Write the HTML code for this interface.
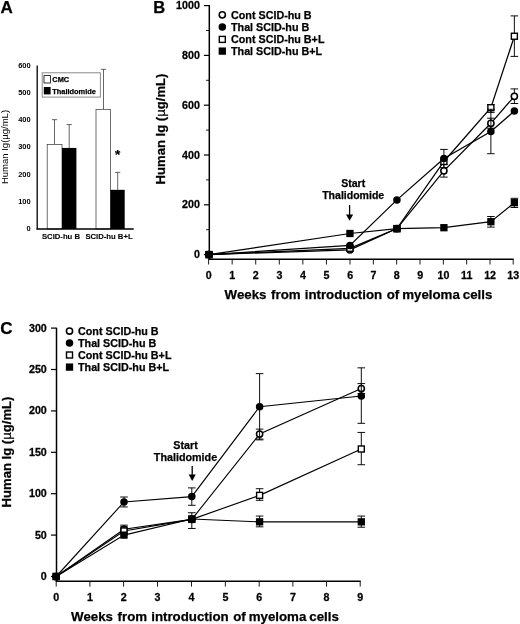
<!DOCTYPE html>
<html><head><meta charset="utf-8"><title>Figure</title>
<style>
html,body{margin:0;padding:0;background:#fff;}
svg{display:block;font-family:"Liberation Sans", Arial, Helvetica, sans-serif;fill:#000;}
text{stroke:#000;stroke-width:0.25px;stroke-linejoin:round;}
</style></head><body>
<svg width="520" height="624" viewBox="0 0 520 624">
<rect x="0" y="0" width="520" height="624" fill="#fff"/>
<text x="0.60" y="12.70" font-size="17" text-anchor="start" font-weight="bold" >A</text>
<text x="30.70" y="230.90" font-size="7.5" text-anchor="end" font-weight="bold" style="stroke-width:0">0</text>
<text x="30.70" y="203.70" font-size="7.5" text-anchor="end" font-weight="bold" style="stroke-width:0">100</text>
<text x="30.70" y="176.50" font-size="7.5" text-anchor="end" font-weight="bold" style="stroke-width:0">200</text>
<text x="30.70" y="149.30" font-size="7.5" text-anchor="end" font-weight="bold" style="stroke-width:0">300</text>
<text x="30.70" y="122.10" font-size="7.5" text-anchor="end" font-weight="bold" style="stroke-width:0">400</text>
<text x="30.70" y="94.90" font-size="7.5" text-anchor="end" font-weight="bold" style="stroke-width:0">500</text>
<text x="30.70" y="67.70" font-size="7.5" text-anchor="end" font-weight="bold" style="stroke-width:0">600</text>
<rect x="42.2" y="72.8" width="58.2" height="24.3" fill="#fff" stroke="#8a8a8a" stroke-width="1"/>
<rect x="44" y="75.6" width="6.4" height="7.4" fill="#fff" stroke="#000" stroke-width="0.8"/>
<rect x="43.8" y="87" width="6.8" height="7.4" fill="#000"/>
<text x="52.30" y="81.90" font-size="7.4" text-anchor="start" font-weight="bold" >CMC</text>
<text x="52.30" y="93.60" font-size="7.4" text-anchor="start" font-weight="bold" >Thalidomide</text>
<line x1="54.50" y1="119.66" x2="54.50" y2="144.41" stroke="#333" stroke-width="0.75"/>
<line x1="51.90" y1="119.66" x2="57.10" y2="119.66" stroke="#333" stroke-width="0.75"/>
<rect x="47.20" y="144.41" width="14.80" height="84.59" fill="#fff" stroke="#333" stroke-width="0.7"/>
<line x1="69.20" y1="124.55" x2="69.20" y2="147.94" stroke="#333" stroke-width="0.75"/>
<line x1="66.60" y1="124.55" x2="71.80" y2="124.55" stroke="#333" stroke-width="0.75"/>
<rect x="62.00" y="147.94" width="14.40" height="81.06" fill="#000"/>
<line x1="103.50" y1="69.34" x2="103.50" y2="109.32" stroke="#333" stroke-width="0.75"/>
<line x1="100.90" y1="69.34" x2="106.10" y2="69.34" stroke="#333" stroke-width="0.75"/>
<rect x="96.00" y="109.32" width="14.40" height="119.68" fill="#fff" stroke="#333" stroke-width="0.7"/>
<line x1="117.70" y1="172.42" x2="117.70" y2="189.83" stroke="#333" stroke-width="0.75"/>
<line x1="115.10" y1="172.42" x2="120.30" y2="172.42" stroke="#333" stroke-width="0.75"/>
<rect x="110.40" y="189.83" width="14.30" height="39.17" fill="#000"/>
<line x1="37.20" y1="65.50" x2="37.20" y2="229.60" stroke="#000" stroke-width="1.3"/>
<line x1="36.60" y1="229.00" x2="133.70" y2="229.00" stroke="#000" stroke-width="1.4"/>
<text x="117.70" y="158.50" font-size="13.5" text-anchor="middle" font-weight="bold" >*</text>
<text x="61.00" y="239.30" font-size="7.7" text-anchor="middle" font-weight="bold" style="stroke-width:0.1px">SCID-hu B</text>
<text x="109.00" y="239.30" font-size="7.7" text-anchor="middle" font-weight="bold" style="stroke-width:0.1px">SCID-hu B+L</text>
<text transform="translate(7.5,147) rotate(-90)" font-size="9.5" text-anchor="middle" font-weight="normal" style="stroke-width:0">Human Ig(µg/mL)</text>
<text x="153.20" y="12.60" font-size="16.5" text-anchor="start" font-weight="bold" >B</text>
<line x1="209.30" y1="5.00" x2="209.30" y2="260.00" stroke="#000" stroke-width="1.5"/>
<line x1="208.60" y1="259.30" x2="513.70" y2="259.30" stroke="#000" stroke-width="1.4"/>
<line x1="203.90" y1="254.60" x2="209.30" y2="254.60" stroke="#000" stroke-width="1.2"/>
<text transform="translate(199.90,258.10) scale(1.07,1)" font-size="10.0" text-anchor="end" font-weight="bold">0</text>
<line x1="206.10" y1="229.70" x2="209.30" y2="229.70" stroke="#000" stroke-width="0.9"/>
<line x1="203.90" y1="204.80" x2="209.30" y2="204.80" stroke="#000" stroke-width="1.2"/>
<text transform="translate(199.90,208.30) scale(1.07,1)" font-size="10.0" text-anchor="end" font-weight="bold">200</text>
<line x1="206.10" y1="179.90" x2="209.30" y2="179.90" stroke="#000" stroke-width="0.9"/>
<line x1="203.90" y1="155.00" x2="209.30" y2="155.00" stroke="#000" stroke-width="1.2"/>
<text transform="translate(199.90,158.50) scale(1.07,1)" font-size="10.0" text-anchor="end" font-weight="bold">400</text>
<line x1="206.10" y1="130.10" x2="209.30" y2="130.10" stroke="#000" stroke-width="0.9"/>
<line x1="203.90" y1="105.20" x2="209.30" y2="105.20" stroke="#000" stroke-width="1.2"/>
<text transform="translate(199.90,108.70) scale(1.07,1)" font-size="10.0" text-anchor="end" font-weight="bold">600</text>
<line x1="206.10" y1="80.30" x2="209.30" y2="80.30" stroke="#000" stroke-width="0.9"/>
<line x1="203.90" y1="55.40" x2="209.30" y2="55.40" stroke="#000" stroke-width="1.2"/>
<text transform="translate(199.90,58.90) scale(1.07,1)" font-size="10.0" text-anchor="end" font-weight="bold">800</text>
<line x1="206.10" y1="30.50" x2="209.30" y2="30.50" stroke="#000" stroke-width="0.9"/>
<line x1="203.90" y1="5.60" x2="209.30" y2="5.60" stroke="#000" stroke-width="1.2"/>
<text transform="translate(199.90,9.10) scale(1.07,1)" font-size="10.0" text-anchor="end" font-weight="bold">1000</text>
<line x1="208.60" y1="259.30" x2="208.60" y2="264.50" stroke="#000" stroke-width="0.9"/>
<text transform="translate(208.70,278.50) scale(1.07,1)" font-size="10.0" text-anchor="middle" font-weight="bold">0</text>
<line x1="232.17" y1="259.30" x2="232.17" y2="264.50" stroke="#000" stroke-width="0.9"/>
<text transform="translate(232.27,278.50) scale(1.07,1)" font-size="10.0" text-anchor="middle" font-weight="bold">1</text>
<line x1="255.73" y1="259.30" x2="255.73" y2="264.50" stroke="#000" stroke-width="0.9"/>
<text transform="translate(255.83,278.50) scale(1.07,1)" font-size="10.0" text-anchor="middle" font-weight="bold">2</text>
<line x1="279.30" y1="259.30" x2="279.30" y2="264.50" stroke="#000" stroke-width="0.9"/>
<text transform="translate(279.40,278.50) scale(1.07,1)" font-size="10.0" text-anchor="middle" font-weight="bold">3</text>
<line x1="302.87" y1="259.30" x2="302.87" y2="264.50" stroke="#000" stroke-width="0.9"/>
<text transform="translate(302.97,278.50) scale(1.07,1)" font-size="10.0" text-anchor="middle" font-weight="bold">4</text>
<line x1="326.43" y1="259.30" x2="326.43" y2="264.50" stroke="#000" stroke-width="0.9"/>
<text transform="translate(326.53,278.50) scale(1.07,1)" font-size="10.0" text-anchor="middle" font-weight="bold">5</text>
<line x1="350.00" y1="259.30" x2="350.00" y2="264.50" stroke="#000" stroke-width="0.9"/>
<text transform="translate(350.10,278.50) scale(1.07,1)" font-size="10.0" text-anchor="middle" font-weight="bold">6</text>
<line x1="373.33" y1="259.30" x2="373.33" y2="264.50" stroke="#000" stroke-width="0.9"/>
<text transform="translate(373.43,278.50) scale(1.07,1)" font-size="10.0" text-anchor="middle" font-weight="bold">7</text>
<line x1="396.67" y1="259.30" x2="396.67" y2="264.50" stroke="#000" stroke-width="0.9"/>
<text transform="translate(396.77,278.50) scale(1.07,1)" font-size="10.0" text-anchor="middle" font-weight="bold">8</text>
<line x1="420.00" y1="259.30" x2="420.00" y2="264.50" stroke="#000" stroke-width="0.9"/>
<text transform="translate(420.10,278.50) scale(1.07,1)" font-size="10.0" text-anchor="middle" font-weight="bold">9</text>
<line x1="443.33" y1="259.30" x2="443.33" y2="264.50" stroke="#000" stroke-width="0.9"/>
<text transform="translate(443.43,278.50) scale(1.07,1)" font-size="10.0" text-anchor="middle" font-weight="bold">10</text>
<line x1="466.67" y1="259.30" x2="466.67" y2="264.50" stroke="#000" stroke-width="0.9"/>
<text transform="translate(466.77,278.50) scale(1.07,1)" font-size="10.0" text-anchor="middle" font-weight="bold">11</text>
<line x1="490.00" y1="259.30" x2="490.00" y2="264.50" stroke="#000" stroke-width="0.9"/>
<text transform="translate(490.10,278.50) scale(1.07,1)" font-size="10.0" text-anchor="middle" font-weight="bold">12</text>
<line x1="513.20" y1="259.30" x2="513.20" y2="264.50" stroke="#000" stroke-width="0.9"/>
<text transform="translate(513.30,278.50) scale(1.07,1)" font-size="10.0" text-anchor="middle" font-weight="bold">13</text>
<text y="298.90" font-size="13.3" font-weight="bold" xml:space="preserve"><tspan x="224.60">Weeks</tspan> <tspan x="271.10">from</tspan> <tspan x="304.70">introduction</tspan> <tspan x="386.70">of</tspan> <tspan x="402.20">myeloma</tspan> <tspan x="462.80">cells</tspan></text>
<text transform="translate(164.5,129.0) rotate(-90)" font-size="13.1" text-anchor="middle" font-weight="bold">Human Ig (<tspan font-weight="normal">µ</tspan>g/mL)</text>
<circle cx="222.30" cy="14.80" r="3.1" fill="#fff" stroke="#000" stroke-width="1.55"/>
<text x="231.00" y="18.50" font-size="10.75" text-anchor="start" font-weight="bold" >Cont SCID-hu B</text>
<circle cx="222.30" cy="26.90" r="3.75" fill="#000"/>
<text x="231.00" y="30.60" font-size="10.75" text-anchor="start" font-weight="bold" >Thal SCID-hu B</text>
<rect x="219.30" y="36.40" width="6.0" height="6.0" fill="#fff" stroke="#000" stroke-width="1.4"/>
<text x="231.00" y="43.10" font-size="10.75" text-anchor="start" font-weight="bold" >Cont SCID-hu B+L</text>
<rect x="218.65" y="47.45" width="7.3" height="7.3" fill="#000"/>
<text x="231.00" y="54.80" font-size="10.75" text-anchor="start" font-weight="bold" >Thal SCID-hu B+L</text>
<text x="353.20" y="187.30" font-size="10.55" text-anchor="middle" font-weight="bold" >Start</text>
<text x="353.20" y="199.30" font-size="10.55" text-anchor="middle" font-weight="bold" >Thalidomide</text>
<line x1="349.60" y1="205.00" x2="349.60" y2="215.80" stroke="#000" stroke-width="1.3"/>
<polygon points="346.00,214.40 353.20,214.40 349.60,220.80" fill="#000"/>
<polyline points="209.00,254.60 349.94,249.80 396.92,228.60 443.90,170.80 490.88,123.30 514.37,96.30" fill="none" stroke="#000" stroke-width="1.25"/>
<polyline points="209.00,254.60 349.94,245.40 396.92,199.90 443.90,158.50 490.88,131.50 514.37,111.00" fill="none" stroke="#000" stroke-width="1.25"/>
<polyline points="209.00,254.60 349.94,248.30 396.92,228.60 443.90,161.50 490.88,107.70 514.37,36.25" fill="none" stroke="#000" stroke-width="1.25"/>
<polyline points="209.00,254.60 349.94,233.50 396.92,228.70 443.90,227.70 490.88,221.70 514.37,202.70" fill="none" stroke="#000" stroke-width="1.25"/>
<line x1="443.90" y1="164.50" x2="443.90" y2="177.10" stroke="#000" stroke-width="0.95"/>
<line x1="440.10" y1="164.50" x2="447.70" y2="164.50" stroke="#000" stroke-width="0.95"/>
<line x1="440.10" y1="177.10" x2="447.70" y2="177.10" stroke="#000" stroke-width="0.95"/>
<line x1="490.88" y1="118.20" x2="490.88" y2="128.20" stroke="#000" stroke-width="0.95"/>
<line x1="487.08" y1="118.20" x2="494.68" y2="118.20" stroke="#000" stroke-width="0.95"/>
<line x1="487.08" y1="128.20" x2="494.68" y2="128.20" stroke="#000" stroke-width="0.95"/>
<line x1="514.37" y1="88.90" x2="514.37" y2="103.50" stroke="#000" stroke-width="0.95"/>
<line x1="510.57" y1="88.90" x2="518.17" y2="88.90" stroke="#000" stroke-width="0.95"/>
<line x1="510.57" y1="103.50" x2="518.17" y2="103.50" stroke="#000" stroke-width="0.95"/>
<circle cx="209.00" cy="254.60" r="3.1" fill="#fff" stroke="#000" stroke-width="1.55"/>
<circle cx="349.94" cy="249.80" r="3.1" fill="#fff" stroke="#000" stroke-width="1.55"/>
<circle cx="396.92" cy="228.60" r="3.1" fill="#fff" stroke="#000" stroke-width="1.55"/>
<circle cx="443.90" cy="170.80" r="3.1" fill="#fff" stroke="#000" stroke-width="1.55"/>
<circle cx="490.88" cy="123.30" r="3.1" fill="#fff" stroke="#000" stroke-width="1.55"/>
<circle cx="514.37" cy="96.30" r="3.1" fill="#fff" stroke="#000" stroke-width="1.55"/>
<line x1="490.88" y1="104.70" x2="490.88" y2="112.40" stroke="#000" stroke-width="0.95"/>
<line x1="487.08" y1="104.70" x2="494.68" y2="104.70" stroke="#000" stroke-width="0.95"/>
<line x1="487.08" y1="112.40" x2="494.68" y2="112.40" stroke="#000" stroke-width="0.95"/>
<line x1="514.37" y1="15.90" x2="514.37" y2="56.40" stroke="#000" stroke-width="0.95"/>
<line x1="510.57" y1="15.90" x2="518.17" y2="15.90" stroke="#000" stroke-width="0.95"/>
<line x1="510.57" y1="56.40" x2="518.17" y2="56.40" stroke="#000" stroke-width="0.95"/>
<rect x="206.00" y="251.60" width="6.0" height="6.0" fill="#fff" stroke="#000" stroke-width="1.4"/>
<rect x="346.94" y="245.30" width="6.0" height="6.0" fill="#fff" stroke="#000" stroke-width="1.4"/>
<rect x="393.92" y="225.60" width="6.0" height="6.0" fill="#fff" stroke="#000" stroke-width="1.4"/>
<rect x="440.90" y="158.50" width="6.0" height="6.0" fill="#fff" stroke="#000" stroke-width="1.4"/>
<rect x="487.88" y="104.70" width="6.0" height="6.0" fill="#fff" stroke="#000" stroke-width="1.4"/>
<rect x="511.37" y="33.25" width="6.0" height="6.0" fill="#fff" stroke="#000" stroke-width="1.4"/>
<line x1="443.90" y1="149.40" x2="443.90" y2="167.60" stroke="#000" stroke-width="0.95"/>
<line x1="440.10" y1="149.40" x2="447.70" y2="149.40" stroke="#000" stroke-width="0.95"/>
<line x1="440.10" y1="167.60" x2="447.70" y2="167.60" stroke="#000" stroke-width="0.95"/>
<line x1="490.88" y1="109.30" x2="490.88" y2="153.70" stroke="#000" stroke-width="0.95"/>
<line x1="487.08" y1="109.30" x2="494.68" y2="109.30" stroke="#000" stroke-width="0.95"/>
<line x1="487.08" y1="153.70" x2="494.68" y2="153.70" stroke="#000" stroke-width="0.95"/>
<circle cx="209.00" cy="254.60" r="3.75" fill="#000"/>
<circle cx="349.94" cy="245.40" r="3.75" fill="#000"/>
<circle cx="396.92" cy="199.90" r="3.75" fill="#000"/>
<circle cx="443.90" cy="158.50" r="3.75" fill="#000"/>
<circle cx="490.88" cy="131.50" r="3.75" fill="#000"/>
<circle cx="514.37" cy="111.00" r="3.75" fill="#000"/>
<line x1="490.88" y1="216.50" x2="490.88" y2="227.10" stroke="#000" stroke-width="0.95"/>
<line x1="487.08" y1="216.50" x2="494.68" y2="216.50" stroke="#000" stroke-width="0.95"/>
<line x1="487.08" y1="227.10" x2="494.68" y2="227.10" stroke="#000" stroke-width="0.95"/>
<line x1="514.37" y1="198.30" x2="514.37" y2="207.50" stroke="#000" stroke-width="0.95"/>
<line x1="510.57" y1="198.30" x2="518.17" y2="198.30" stroke="#000" stroke-width="0.95"/>
<line x1="510.57" y1="207.50" x2="518.17" y2="207.50" stroke="#000" stroke-width="0.95"/>
<rect x="205.35" y="250.95" width="7.3" height="7.3" fill="#000"/>
<rect x="346.29" y="229.85" width="7.3" height="7.3" fill="#000"/>
<rect x="393.27" y="225.05" width="7.3" height="7.3" fill="#000"/>
<rect x="440.25" y="224.05" width="7.3" height="7.3" fill="#000"/>
<rect x="487.23" y="218.05" width="7.3" height="7.3" fill="#000"/>
<rect x="510.72" y="199.05" width="7.3" height="7.3" fill="#000"/>
<text x="0.30" y="334.40" font-size="17" text-anchor="start" font-weight="bold" >C</text>
<line x1="56.50" y1="327.80" x2="56.50" y2="581.90" stroke="#000" stroke-width="1.5"/>
<line x1="55.80" y1="581.20" x2="360.70" y2="581.20" stroke="#000" stroke-width="1.4"/>
<line x1="51.00" y1="576.50" x2="56.50" y2="576.50" stroke="#000" stroke-width="1.2"/>
<text transform="translate(46.80,580.00) scale(1.07,1)" font-size="10.0" text-anchor="end" font-weight="bold">0</text>
<line x1="51.00" y1="535.10" x2="56.50" y2="535.10" stroke="#000" stroke-width="1.2"/>
<text transform="translate(46.80,538.60) scale(1.07,1)" font-size="10.0" text-anchor="end" font-weight="bold">50</text>
<line x1="51.00" y1="493.70" x2="56.50" y2="493.70" stroke="#000" stroke-width="1.2"/>
<text transform="translate(46.80,497.20) scale(1.07,1)" font-size="10.0" text-anchor="end" font-weight="bold">100</text>
<line x1="51.00" y1="452.30" x2="56.50" y2="452.30" stroke="#000" stroke-width="1.2"/>
<text transform="translate(46.80,455.80) scale(1.07,1)" font-size="10.0" text-anchor="end" font-weight="bold">150</text>
<line x1="51.00" y1="410.90" x2="56.50" y2="410.90" stroke="#000" stroke-width="1.2"/>
<text transform="translate(46.80,414.40) scale(1.07,1)" font-size="10.0" text-anchor="end" font-weight="bold">200</text>
<line x1="51.00" y1="369.50" x2="56.50" y2="369.50" stroke="#000" stroke-width="1.2"/>
<text transform="translate(46.80,373.00) scale(1.07,1)" font-size="10.0" text-anchor="end" font-weight="bold">250</text>
<line x1="51.00" y1="328.10" x2="56.50" y2="328.10" stroke="#000" stroke-width="1.2"/>
<text transform="translate(46.80,331.60) scale(1.07,1)" font-size="10.0" text-anchor="end" font-weight="bold">300</text>
<line x1="56.20" y1="581.20" x2="56.20" y2="586.60" stroke="#000" stroke-width="0.9"/>
<text transform="translate(56.20,600.70) scale(1.07,1)" font-size="10.0" text-anchor="middle" font-weight="bold">0</text>
<line x1="89.90" y1="581.20" x2="89.90" y2="586.60" stroke="#000" stroke-width="0.9"/>
<text transform="translate(89.90,600.70) scale(1.07,1)" font-size="10.0" text-anchor="middle" font-weight="bold">1</text>
<line x1="123.60" y1="581.20" x2="123.60" y2="586.60" stroke="#000" stroke-width="0.9"/>
<text transform="translate(123.60,600.70) scale(1.07,1)" font-size="10.0" text-anchor="middle" font-weight="bold">2</text>
<line x1="157.55" y1="581.20" x2="157.55" y2="586.60" stroke="#000" stroke-width="0.9"/>
<text transform="translate(157.55,600.70) scale(1.07,1)" font-size="10.0" text-anchor="middle" font-weight="bold">3</text>
<line x1="191.50" y1="581.20" x2="191.50" y2="586.60" stroke="#000" stroke-width="0.9"/>
<text transform="translate(191.50,600.70) scale(1.07,1)" font-size="10.0" text-anchor="middle" font-weight="bold">4</text>
<line x1="225.35" y1="581.20" x2="225.35" y2="586.60" stroke="#000" stroke-width="0.9"/>
<text transform="translate(225.35,600.70) scale(1.07,1)" font-size="10.0" text-anchor="middle" font-weight="bold">5</text>
<line x1="259.20" y1="581.20" x2="259.20" y2="586.60" stroke="#000" stroke-width="0.9"/>
<text transform="translate(259.20,600.70) scale(1.07,1)" font-size="10.0" text-anchor="middle" font-weight="bold">6</text>
<line x1="292.87" y1="581.20" x2="292.87" y2="586.60" stroke="#000" stroke-width="0.9"/>
<text transform="translate(292.87,600.70) scale(1.07,1)" font-size="10.0" text-anchor="middle" font-weight="bold">7</text>
<line x1="326.53" y1="581.20" x2="326.53" y2="586.60" stroke="#000" stroke-width="0.9"/>
<text transform="translate(326.53,600.70) scale(1.07,1)" font-size="10.0" text-anchor="middle" font-weight="bold">8</text>
<line x1="360.20" y1="581.20" x2="360.20" y2="586.60" stroke="#000" stroke-width="0.9"/>
<text transform="translate(360.20,600.70) scale(1.07,1)" font-size="10.0" text-anchor="middle" font-weight="bold">9</text>
<text y="621.20" font-size="13.3" font-weight="bold" xml:space="preserve"><tspan x="71.10">Weeks</tspan> <tspan x="117.60">from</tspan> <tspan x="151.20">introduction</tspan> <tspan x="233.20">of</tspan> <tspan x="248.70">myeloma</tspan> <tspan x="309.30">cells</tspan></text>
<text transform="translate(10.9,452) rotate(-90)" font-size="13.1" text-anchor="middle" font-weight="bold">Human Ig (<tspan font-weight="normal">µ</tspan>g/mL)</text>
<circle cx="69.50" cy="331.00" r="3.1" fill="#fff" stroke="#000" stroke-width="1.55"/>
<text x="78.00" y="334.70" font-size="10.75" text-anchor="start" font-weight="bold" >Cont SCID-hu B</text>
<circle cx="69.50" cy="343.10" r="3.75" fill="#000"/>
<text x="78.00" y="346.80" font-size="10.75" text-anchor="start" font-weight="bold" >Thal SCID-hu B</text>
<rect x="66.50" y="352.00" width="6.0" height="6.0" fill="#fff" stroke="#000" stroke-width="1.4"/>
<text x="78.00" y="358.70" font-size="10.75" text-anchor="start" font-weight="bold" >Cont SCID-hu B+L</text>
<rect x="65.85" y="363.45" width="7.3" height="7.3" fill="#000"/>
<text x="78.00" y="370.80" font-size="10.75" text-anchor="start" font-weight="bold" >Thal SCID-hu B+L</text>
<text x="185.50" y="448.90" font-size="10.75" text-anchor="middle" font-weight="bold" >Start</text>
<text x="185.50" y="461.00" font-size="10.75" text-anchor="middle" font-weight="bold" >Thalidomide</text>
<line x1="192.20" y1="466.00" x2="192.20" y2="475.90" stroke="#000" stroke-width="1.3"/>
<polygon points="188.60,474.50 195.80,474.50 192.20,480.90" fill="#000"/>
<polyline points="56.20,576.50 124.00,529.30 191.80,519.37 259.60,434.08 361.30,388.54" fill="none" stroke="#000" stroke-width="1.12"/>
<polyline points="56.20,576.50 124.00,501.98 191.80,496.60 259.60,406.76 361.30,396.00" fill="none" stroke="#000" stroke-width="1.12"/>
<polyline points="56.20,576.50 124.00,530.96 191.80,519.37 259.60,495.36 361.30,448.99" fill="none" stroke="#000" stroke-width="1.12"/>
<polyline points="56.20,576.50 124.00,535.10 191.80,518.95 259.60,521.85 361.30,521.85" fill="none" stroke="#000" stroke-width="1.12"/>
<line x1="124.00" y1="525.16" x2="124.00" y2="533.44" stroke="#000" stroke-width="0.95"/>
<line x1="120.20" y1="525.16" x2="127.80" y2="525.16" stroke="#000" stroke-width="0.95"/>
<line x1="120.20" y1="533.44" x2="127.80" y2="533.44" stroke="#000" stroke-width="0.95"/>
<line x1="259.60" y1="429.12" x2="259.60" y2="439.05" stroke="#000" stroke-width="0.95"/>
<line x1="255.80" y1="429.12" x2="263.40" y2="429.12" stroke="#000" stroke-width="0.95"/>
<line x1="255.80" y1="439.05" x2="263.40" y2="439.05" stroke="#000" stroke-width="0.95"/>
<line x1="361.30" y1="383.58" x2="361.30" y2="393.51" stroke="#000" stroke-width="0.95"/>
<line x1="357.50" y1="383.58" x2="365.10" y2="383.58" stroke="#000" stroke-width="0.95"/>
<line x1="357.50" y1="393.51" x2="365.10" y2="393.51" stroke="#000" stroke-width="0.95"/>
<circle cx="56.20" cy="576.50" r="3.1" fill="#fff" stroke="#000" stroke-width="1.55"/>
<circle cx="124.00" cy="529.30" r="3.1" fill="#fff" stroke="#000" stroke-width="1.55"/>
<circle cx="191.80" cy="519.37" r="3.1" fill="#fff" stroke="#000" stroke-width="1.55"/>
<circle cx="259.60" cy="434.08" r="3.1" fill="#fff" stroke="#000" stroke-width="1.55"/>
<circle cx="361.30" cy="388.54" r="3.1" fill="#fff" stroke="#000" stroke-width="1.55"/>
<line x1="124.00" y1="526.82" x2="124.00" y2="535.10" stroke="#000" stroke-width="0.95"/>
<line x1="120.20" y1="526.82" x2="127.80" y2="526.82" stroke="#000" stroke-width="0.95"/>
<line x1="120.20" y1="535.10" x2="127.80" y2="535.10" stroke="#000" stroke-width="0.95"/>
<line x1="259.60" y1="488.73" x2="259.60" y2="500.32" stroke="#000" stroke-width="0.95"/>
<line x1="255.80" y1="488.73" x2="263.40" y2="488.73" stroke="#000" stroke-width="0.95"/>
<line x1="255.80" y1="500.32" x2="263.40" y2="500.32" stroke="#000" stroke-width="0.95"/>
<line x1="361.30" y1="432.43" x2="361.30" y2="464.72" stroke="#000" stroke-width="0.95"/>
<line x1="357.50" y1="432.43" x2="365.10" y2="432.43" stroke="#000" stroke-width="0.95"/>
<line x1="357.50" y1="464.72" x2="365.10" y2="464.72" stroke="#000" stroke-width="0.95"/>
<rect x="53.20" y="573.50" width="6.0" height="6.0" fill="#fff" stroke="#000" stroke-width="1.4"/>
<rect x="121.00" y="527.96" width="6.0" height="6.0" fill="#fff" stroke="#000" stroke-width="1.4"/>
<rect x="188.80" y="516.37" width="6.0" height="6.0" fill="#fff" stroke="#000" stroke-width="1.4"/>
<rect x="256.60" y="492.36" width="6.0" height="6.0" fill="#fff" stroke="#000" stroke-width="1.4"/>
<rect x="358.30" y="445.99" width="6.0" height="6.0" fill="#fff" stroke="#000" stroke-width="1.4"/>
<line x1="124.00" y1="497.01" x2="124.00" y2="506.95" stroke="#000" stroke-width="0.95"/>
<line x1="120.20" y1="497.01" x2="127.80" y2="497.01" stroke="#000" stroke-width="0.95"/>
<line x1="120.20" y1="506.95" x2="127.80" y2="506.95" stroke="#000" stroke-width="0.95"/>
<line x1="191.80" y1="487.90" x2="191.80" y2="505.29" stroke="#000" stroke-width="0.95"/>
<line x1="188.00" y1="487.90" x2="195.60" y2="487.90" stroke="#000" stroke-width="0.95"/>
<line x1="188.00" y1="505.29" x2="195.60" y2="505.29" stroke="#000" stroke-width="0.95"/>
<line x1="259.60" y1="373.64" x2="259.60" y2="439.88" stroke="#000" stroke-width="0.95"/>
<line x1="255.80" y1="373.64" x2="263.40" y2="373.64" stroke="#000" stroke-width="0.95"/>
<line x1="255.80" y1="439.88" x2="263.40" y2="439.88" stroke="#000" stroke-width="0.95"/>
<line x1="361.30" y1="367.84" x2="361.30" y2="423.32" stroke="#000" stroke-width="0.95"/>
<line x1="357.50" y1="367.84" x2="365.10" y2="367.84" stroke="#000" stroke-width="0.95"/>
<line x1="357.50" y1="423.32" x2="365.10" y2="423.32" stroke="#000" stroke-width="0.95"/>
<circle cx="56.20" cy="576.50" r="3.75" fill="#000"/>
<circle cx="124.00" cy="501.98" r="3.75" fill="#000"/>
<circle cx="191.80" cy="496.60" r="3.75" fill="#000"/>
<circle cx="259.60" cy="406.76" r="3.75" fill="#000"/>
<circle cx="361.30" cy="396.00" r="3.75" fill="#000"/>
<line x1="191.80" y1="512.74" x2="191.80" y2="528.48" stroke="#000" stroke-width="0.95"/>
<line x1="188.00" y1="512.74" x2="195.60" y2="512.74" stroke="#000" stroke-width="0.95"/>
<line x1="188.00" y1="528.48" x2="195.60" y2="528.48" stroke="#000" stroke-width="0.95"/>
<line x1="259.60" y1="516.06" x2="259.60" y2="526.82" stroke="#000" stroke-width="0.95"/>
<line x1="255.80" y1="516.06" x2="263.40" y2="516.06" stroke="#000" stroke-width="0.95"/>
<line x1="255.80" y1="526.82" x2="263.40" y2="526.82" stroke="#000" stroke-width="0.95"/>
<line x1="361.30" y1="516.06" x2="361.30" y2="527.23" stroke="#000" stroke-width="0.95"/>
<line x1="357.50" y1="516.06" x2="365.10" y2="516.06" stroke="#000" stroke-width="0.95"/>
<line x1="357.50" y1="527.23" x2="365.10" y2="527.23" stroke="#000" stroke-width="0.95"/>
<rect x="52.55" y="572.85" width="7.3" height="7.3" fill="#000"/>
<rect x="120.35" y="531.45" width="7.3" height="7.3" fill="#000"/>
<rect x="188.15" y="515.30" width="7.3" height="7.3" fill="#000"/>
<rect x="255.95" y="518.20" width="7.3" height="7.3" fill="#000"/>
<rect x="357.65" y="518.20" width="7.3" height="7.3" fill="#000"/>
</svg>
</body></html>
